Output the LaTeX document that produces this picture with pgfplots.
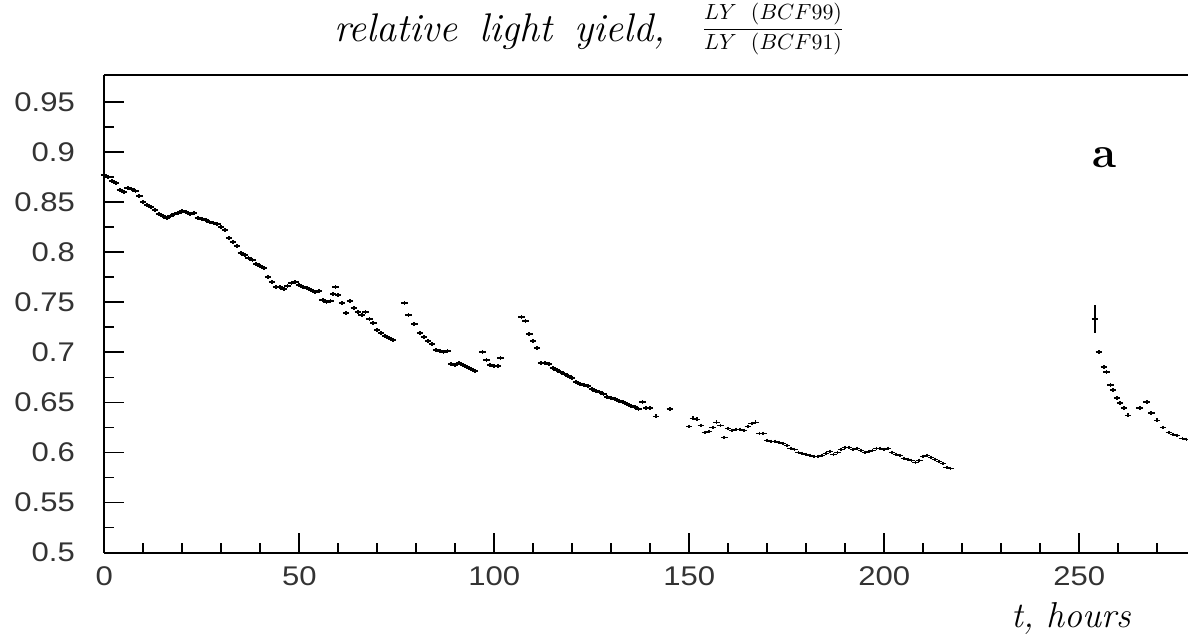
\documentclass[border=0pt]{standalone}
\usepackage{fontspec}
\usepackage{pgfplots}
\usepackage{pgfplotstable}
\pgfplotsset{compat=1.18}
\newfontfamily\tickfont[FakeStretch=1.15]{Liberation Sans}

% relative light yield LY(BCF99)/LY(BCF91) versus irradiation time
\pgfplotstableread{
t ly
0 0.877
1 0.875
2 0.871
3 0.869
4 0.862
5 0.860
6 0.864
7 0.863
8 0.861
9 0.856
10 0.850
11 0.847
12 0.845
13 0.842
14 0.838
15 0.836
16 0.834
17 0.836
18 0.838
19 0.839
20 0.841
21 0.840
22 0.838
23 0.839
24 0.834
25 0.833
26 0.832
27 0.830
28 0.829
29 0.828
30 0.825
31 0.822
32 0.814
33 0.810
34 0.806
35 0.799
36 0.797
37 0.794
38 0.792
39 0.788
40 0.786
41 0.784
42 0.775
43 0.770
44 0.765
45 0.765
46 0.763
47 0.766
48 0.769
49 0.770
50 0.767
51 0.765
52 0.764
53 0.762
54 0.760
55 0.761
56 0.752
57 0.750
58 0.751
58.7 0.758
59.3 0.765
60 0.757
61 0.749
62 0.739
63 0.751
64 0.744
65 0.740
66 0.737
67 0.740
68 0.733
69 0.729
70 0.722
71 0.719
72 0.716
73 0.714
74 0.712
77 0.749
78 0.737
79.5 0.728
81 0.719
82 0.715
83 0.711
84 0.708
85 0.702
86 0.701
87 0.700
88 0.701
89 0.688
90 0.687
91 0.689
92 0.687
93 0.685
94 0.683
95 0.681
97 0.700
98 0.692
99 0.687
100 0.686
101 0.686
101.6 0.694
107 0.735
108 0.731
109 0.718
110 0.711
111 0.704
112 0.689
113 0.689
114 0.688
115 0.684
116 0.682
117 0.680
118 0.678
119 0.676
120 0.674
121 0.670
122 0.668
123 0.667
124 0.666
125 0.663
126 0.661
127 0.660
128 0.658
129 0.655
130 0.654
131 0.653
132 0.651
133 0.650
134 0.648
135 0.646
136 0.645
137 0.643
138 0.650
139 0.644
140 0.644
141.5 0.636
145 0.643
150 0.626
151 0.634
152 0.633
153 0.627
154 0.620
155 0.621
156 0.625
157 0.630
158 0.627
159 0.615
160 0.624
161 0.622
162 0.623
163 0.623
164 0.622
165 0.626
166 0.629
167 0.630
168 0.619
169 0.619
170 0.612
171 0.611
172 0.611
173 0.610
174 0.609
175 0.607
176 0.604
177 0.603
178 0.600
179 0.599
180 0.598
181 0.597
182 0.596
183 0.596
184 0.597
185 0.599
186 0.601
187 0.598
188 0.600
189 0.603
190 0.605
191 0.605
192 0.603
193 0.604
194 0.602
195 0.600
196 0.601
197 0.602
198 0.604
199 0.604
200 0.603
201 0.604
202 0.600
203 0.598
204 0.597
205 0.594
206 0.593
207 0.592
208 0.590
209 0.592
210 0.596
211 0.597
212 0.595
213 0.593
214 0.591
215 0.589
216 0.585
217 0.584
255 0.700
256.3 0.685
257 0.680
258 0.667
258.7 0.662
259.7 0.654
260.5 0.649
261.5 0.644
262.5 0.637
265.5 0.644
267.3 0.650
268.5 0.639
270 0.632
271.5 0.625
273 0.620
274 0.618
275 0.617
276.5 0.614
277.5 0.613
}\lydata

% first point after the break, with its statistical error
\pgfplotstableread{
t ly err
254 0.733 0.014
}\lyrestart

\begin{document}
\begin{tikzpicture}
\begin{axis}[
  at={(0pt,0pt)}, anchor=south west,
  scale only axis, width=541.85pt, height=238.85pt,
  xmin=0, xmax=277.9, ymin=0.5, ymax=0.9767,
  axis x line=box, axis y line=left,
  axis line style={-, line width=1pt, black},
  xtick={0,50,100,150,200,250},
  xticklabels={0,50,100,150,200,250},
  minor xtick={10,20,30,40,60,70,80,90,110,120,130,140,160,170,180,190,210,220,230,240,260,270},
  ytick={0.5,0.55,0.6,0.65,0.7,0.75,0.8,0.85,0.9,0.95},
  yticklabels={0.5,0.55,0.6,0.65,0.7,0.75,0.8,0.85,0.9,0.95},
  minor ytick={0.525,0.575,0.625,0.675,0.725,0.775,0.825,0.875,0.925},
  xtick pos=left, ytick pos=left,
  tick align=inside,
  major tick length=10pt, minor tick length=5pt,
  every tick/.style={black, line width=0.8pt},
  ticklabel style={font=\tickfont\fontsize{13.5}{16}\selectfont, text=black!80},
  /pgf/number format/assume math mode=true,
  yticklabel style={anchor=east, inner sep=0pt, xshift=-14.5pt},
  xticklabel style={anchor=north, inner sep=0pt, yshift=-7pt},
]
\addplot[only marks, mark=+, mark size=1.6pt, line width=0.9pt,
  every mark/.append style={yscale=0.6}] table[x=t, y=ly] {\lydata};
\addplot[only marks, mark=+, mark size=1.6pt, line width=0.9pt,
  every mark/.append style={yscale=0.6},
  error bars/.cd, y dir=both, y explicit,
  error mark=none, error bar style={line width=0.9pt}]
  table[x=t, y=ly, y error=err] {\lyrestart};
\end{axis}
\node[anchor=base, inner sep=0pt] at (242.5pt,255.35pt)
  {\fontsize{20}{24}\selectfont\textit{relative\hspace{0.55em}light\hspace{0.55em}yield,}%
   \hspace{0.9em}%
   \raisebox{3.75pt}{\fontsize{11}{13}\selectfont
     $\displaystyle\frac{LY\ \ (BCF99)}{LY\ \ (BCF91)}$}};
\node[anchor=base, font=\fontsize{18}{22}\selectfont\itshape] at (483.4pt,-37.65pt) {t, hours};
\node[anchor=base, font=\fontsize{22}{26}\selectfont\bfseries] at (500.35pt,192.35pt) {a};
\pgfresetboundingbox
\path[use as bounding box] (-52.15pt,-41.15pt) rectangle (541.85pt,276.35pt);
\end{tikzpicture}
\end{document}
